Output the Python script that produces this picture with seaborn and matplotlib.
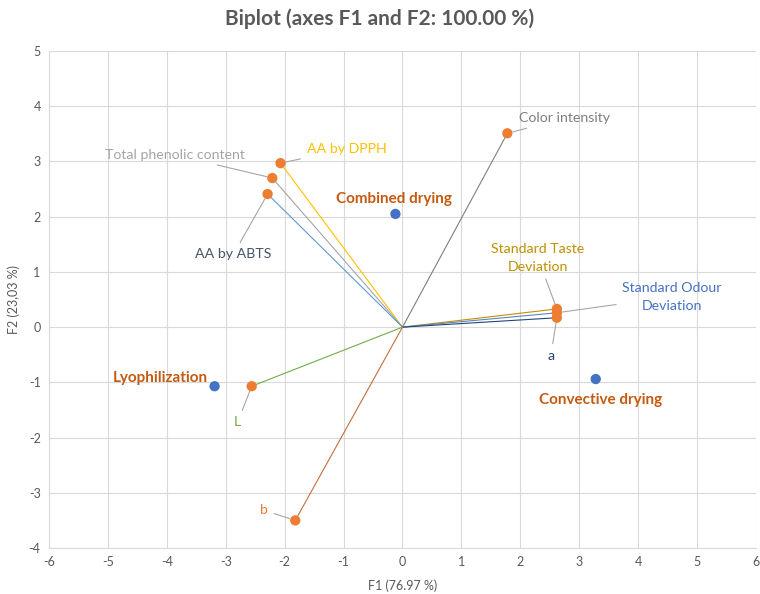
import matplotlib
matplotlib.use("Agg")
import matplotlib.pyplot as plt
import seaborn as sns
import pandas as pd

# ---- data ----
variables = ["Color intensity", "AA by DPPH", "Total phenolic content", "AA by ABTS",
             "Standard Taste\nDeviation", "Standard Odour\nDeviation", "a", "L", "b"]
var_f1 = [1.78, -2.07, -2.21, -2.29, 2.62, 2.62, 2.62, -2.56, -1.82]
var_f2 = [3.51, 2.97, 2.70, 2.41, 0.33, 0.26, 0.17, -1.07, -3.50]
observations = ["Combined drying", "Lyophilization", "Convective drying"]
obs_f1 = [-0.12, -3.19, 3.28]
obs_f2 = [2.05, -1.07, -0.94]
x_ticks = [-6, -5, -4, -3, -2, -1, 0, 1, 2, 3, 4, 5, 6]
y_ticks = [-4, -3, -2, -1, 0, 1, 2, 3, 4, 5]

# ---- styles ----
line_colors = ["#7F7F7F", "#FFC000", "#A5A5A5", "#5B9BD5", "#BF9000", "#5B84C4", "#264478", "#70AD47", "#C0703C"]
text_colors = ["#7F7F7F", "#FFC000", "#A5A5A5", "#44546A", "#BF9000", "#4472C4", "#264478", "#70AD47", "#ED7D31"]
# label offsets in pixels (dx, dy up), ha
var_offsets = [(12, 15, "left"), (26, 14, "left"), (-27, 23, "right"), (-34, -60, "center"),
               (-19, 51, "center"), (115, 16, "center"), (-6, -38, "center"), (-14, -36, "center"),
               (-31, 10, "center")]
obs_offsets = [(-1, 15, "center"), (-7, 8, "right"), (5, -21, "center")]

sns.set_theme(style="white")
plt.rcParams["font.family"] = ["Lato", "DejaVu Sans"]
plt.rcParams["axes.unicode_minus"] = False

fig = plt.figure(figsize=(7.6, 5.94), dpi=100)
ax = fig.add_axes([0.0645, 0.0774, 0.9302, 0.8367])

var_df = pd.DataFrame({"F1": var_f1, "F2": var_f2, "label": variables})
obs_df = pd.DataFrame({"F1": obs_f1, "F2": obs_f2, "label": observations})

# vectors
for x, y, c in zip(var_f1, var_f2, line_colors):
    ax.plot([0, x], [0, y], color=c, lw=0.8, zorder=2)

sns.scatterplot(data=var_df, x="F1", y="F2", ax=ax, color="#ED7D31", s=55,
                edgecolor="none", zorder=4, legend=False)
sns.scatterplot(data=obs_df, x="F1", y="F2", ax=ax, color="#4472C4", s=55,
                edgecolor="none", zorder=4, legend=False)

for x, y, lab, col, (dx, dy, ha) in zip(var_f1, var_f2, variables, text_colors, var_offsets):
    ax.annotate(lab, xy=(x, y), xytext=(dx, dy), textcoords="offset pixels",
                ha=ha, va="center", fontsize=10.2, color=col, linespacing=1.65,
                arrowprops=dict(arrowstyle="-", color="#A6A6A6", lw=0.8,
                                shrinkA=2, shrinkB=4), zorder=5)

for x, y, lab, (dx, dy, ha) in zip(obs_f1, obs_f2, observations, obs_offsets):
    ax.annotate(lab, xy=(x, y), xytext=(dx, dy), textcoords="offset pixels",
                ha=ha, va="center", fontsize=11, color="#C55A11", fontweight="bold", zorder=5)

ax.set_xlim(-6, 6)
ax.set_ylim(-4, 5)
ax.set_xticks(x_ticks)
ax.set_yticks(y_ticks)
ax.grid(True, color="#D9D9D9", lw=0.8)
ax.set_axisbelow(True)
for s in ["top", "right"]:
    ax.spines[s].set_visible(False)
for s in ["left", "bottom"]:
    ax.spines[s].set_color("#D9D9D9")
    ax.spines[s].set_linewidth(0.8)
ax.tick_params(axis="both", labelsize=9, colors="#595959", length=0, pad=6)
ax.set_xlabel("F1 (76.97 %)", fontsize=9, color="#595959", labelpad=8)
ax.set_ylabel("F2 (23,03 %)", fontsize=9, color="#595959", labelpad=6)
fig.suptitle("Biplot (axes F1 and F2: 100.00 %)", x=0.5, y=0.985, fontsize=15,
             fontweight="bold", color="#595959")

fig.savefig("out.png", dpi=100)
